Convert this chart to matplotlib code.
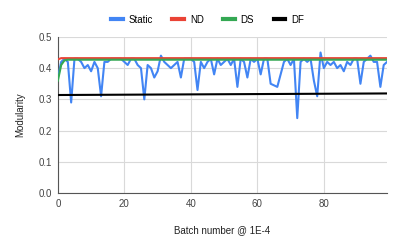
import numpy as np
import matplotlib.pyplot as plt

plt.rcParams['font.family'] = ['Liberation Sans', 'DejaVu Sans']

batch = np.arange(100)
static = [0.37, 0.42, 0.43, 0.42, 0.29, 0.43, 0.43, 0.42, 0.40, 0.41,
          0.39, 0.42, 0.40, 0.31, 0.42, 0.42, 0.43, 0.43, 0.43, 0.43,
          0.42, 0.41, 0.43, 0.43, 0.41, 0.40, 0.30, 0.41, 0.40, 0.37,
          0.39, 0.44, 0.42, 0.41, 0.40, 0.41, 0.42, 0.37, 0.43, 0.43,
          0.43, 0.42, 0.33, 0.42, 0.40, 0.42, 0.43, 0.38, 0.43, 0.41,
          0.42, 0.43, 0.41, 0.43, 0.34, 0.43, 0.42, 0.37, 0.43, 0.42,
          0.43, 0.38, 0.43, 0.43, 0.35, 0.345, 0.34, 0.38, 0.42, 0.43,
          0.41, 0.43, 0.24, 0.42, 0.43, 0.42, 0.43, 0.36, 0.31, 0.45,
          0.40, 0.42, 0.41, 0.42, 0.40, 0.41, 0.39, 0.42, 0.41, 0.43,
          0.43, 0.35, 0.42, 0.43, 0.44, 0.42, 0.42, 0.34, 0.41, 0.42]
nd = [0.428] + [0.432] * 99
ds = [0.36, 0.41, 0.425] + [0.427] * 97
df_start, df_end = 0.314, 0.319
df = list(np.linspace(df_start, df_end, 100))

fig = plt.figure(figsize=(3.99, 2.46), dpi=100)
ax = fig.add_axes([0.145, 0.215, 0.825, 0.635])

ax.plot(batch, static, color='#4285f4', lw=1.5, label='Static', zorder=3)
ax.plot(batch, nd, color='#ea4335', lw=1.5, label='ND', zorder=4)
ax.plot(batch, ds, color='#34a853', lw=1.5, label='DS', zorder=5)
ax.plot(batch, df, color='#000000', lw=1.5, label='DF', zorder=4)

ax.set_xlim(0, 99)
ax.set_ylim(0, 0.5)
ax.set_xticks([0, 20, 40, 60, 80])
ax.set_yticks([0.0, 0.1, 0.2, 0.3, 0.4, 0.5])
ax.set_yticklabels(['0.0', '0.1', '0.2', '0.3', '0.4', '0.5'])
ax.grid(True, color='#d9d9d9', lw=0.8)
ax.set_axisbelow(True)
for s in ['top', 'right']:
    ax.spines[s].set_visible(False)
ax.spines['left'].set_color('#555555')
ax.spines['bottom'].set_color('#555555')
ax.tick_params(length=0, labelsize=7, colors='#444444', pad=4)
ax.set_xlabel('Batch number @ 1E-4', fontsize=7, color='#222222', labelpad=12)
ax.set_ylabel('Modularity', fontsize=7, color='#222222', labelpad=10)

leg = fig.legend(loc='upper center', bbox_to_anchor=(0.52, 0.975), ncol=4, frameon=False,
                 fontsize=7, handlelength=1.2, handletextpad=0.6, columnspacing=2.0)
for h in leg.legend_handles:
    h.set_linewidth(3)

fig.savefig('out.png', dpi=100)
